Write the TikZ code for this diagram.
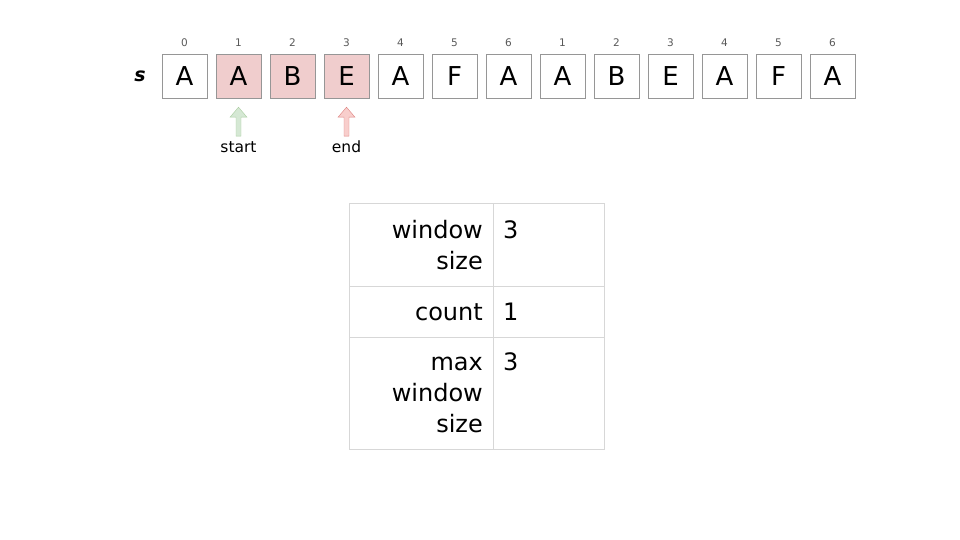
\documentclass[tikz,border=0pt]{standalone}
\usepackage{fontspec}
\setmainfont{DejaVu Sans}
\usetikzlibrary{positioning,calc}

\definecolor{cellline}{RGB}{150,150,150}
\definecolor{cellred}{RGB}{240,205,205}
\definecolor{gridline}{RGB}{215,215,215}
\definecolor{startfill}{RGB}{213,232,212}
\definecolor{startline}{RGB}{170,205,160}
\definecolor{endfill}{RGB}{248,206,204}
\definecolor{endline}{RGB}{222,130,128}

\tikzset{
    cell/.style={draw=cellline, minimum width=45pt, minimum height=44pt, inner sep=0pt, font=\fontsize{26}{26}\selectfont},
    marked/.style={cell, fill=cellred},
    idx/.style={font=\fontsize{10.5}{10.5}\selectfont, text=black!65, inner sep=0pt},
    lbl/.style={font=\fontsize{15.5}{15.5}\selectfont, inner sep=0pt, anchor=base},
    tabtext/.style={font=\fontsize{24}{24}\selectfont, inner sep=0pt},
    blockarrow/.pic={\draw[pic actions] (0,0) -- (8.5,-10) -- (2.5,-10) -- (2.5,-29) -- (-2.5,-29) -- (-2.5,-10) -- (-8.5,-10) -- cycle;}
}

\begin{document}
\begin{tikzpicture}[x=1pt,y=1pt]
    \useasboundingbox (0,0) rectangle (960,-540);
    % the string s
    \foreach \ch/\n/\sty [count=\i from 0] in {A/0/cell,A/1/marked,B/2/marked,E/3/marked,A/4/cell,F/5/cell,A/6/cell,A/1/cell,B/2/cell,E/3/cell,A/4/cell,F/5/cell,A/6/cell}{
        \node[\sty] (c\i) at ({184.5+54*\i},-76) {\ch};
        \node[idx, anchor=base] (idx\i) at ($(c\i.center)+(0,29)$) {\n};
    }
    \node[font=\fontsize{19}{19}\selectfont\bfseries\itshape, inner sep=0pt, left=16pt of c0] (s) {s};

    % pointers
    \coordinate[below=9pt of c1] (starttip);
    \coordinate[below=9pt of c3] (endtip);
    \pic[draw=startline, fill=startfill] at (starttip) {blockarrow};
    \pic[draw=endline, fill=endfill] at (endtip) {blockarrow};
    \node[lbl] (startlbl) at ($(starttip)+(0,-45)$) {start};
    \node[lbl] (endlbl) at ($(endtip)+(0,-45)$) {end};

    % state table
    \coordinate (tl) at (349,-203);
    \coordinate (br) at (604,-449);
    \draw[gridline] (tl) rectangle (br);
    \draw[gridline] (493,-203) -- (493,-449);
    \draw[gridline] (349,-286) -- (604,-286);
    \draw[gridline] (349,-337) -- (604,-337);
    \foreach \txt/\y [count=\k] in {window/238,size/269,count/320,max/370,window/401,size/432}
        \node[tabtext, anchor=base east] (key\k) at (483,-\y) {\txt};
    \foreach \val/\y [count=\k] in {3/238,1/320,3/370}
        \node[tabtext, anchor=base west] (val\k) at (503,-\y) {\val};
\end{tikzpicture}
\end{document}
